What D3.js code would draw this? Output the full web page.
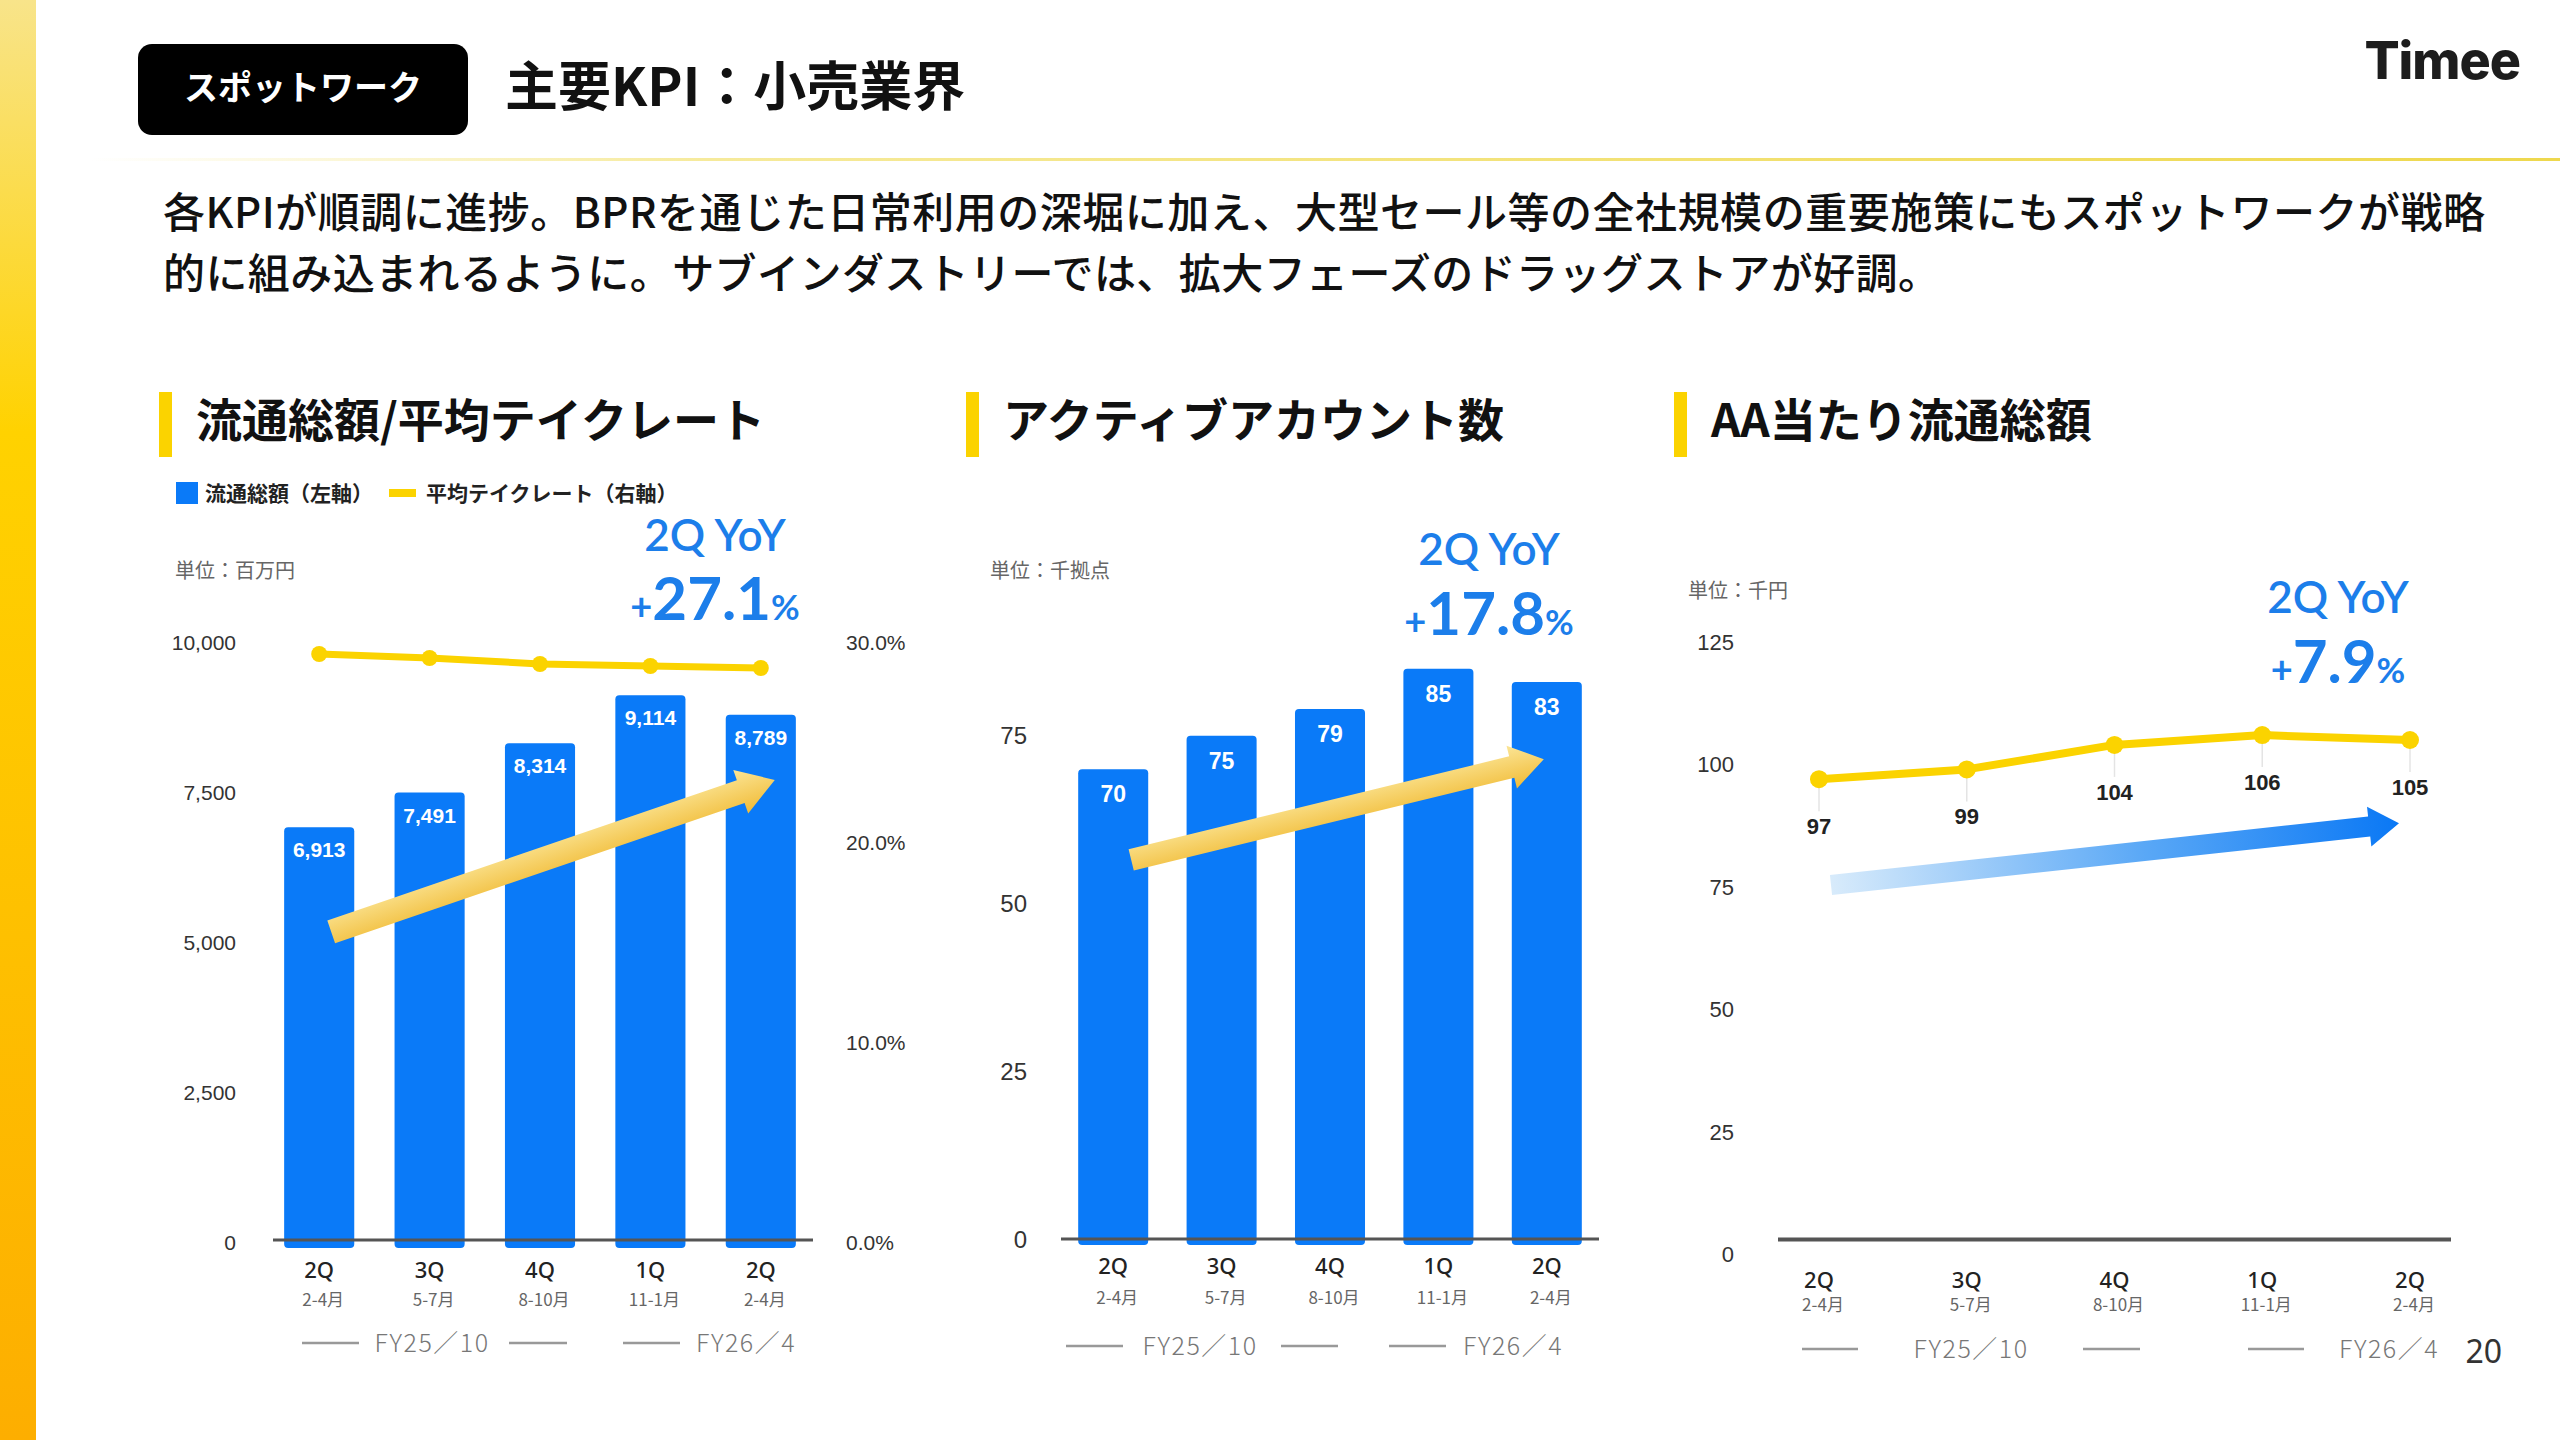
<!DOCTYPE html>
<html>
<head>
<meta charset="utf-8">
<script src="https://cdn.jsdelivr.net/npm/d3@7"></script>
<style>
  body { margin: 0; background: #fff; }
  svg { display: block; }
</style>
</head>
<body>
<div id="slide"></div>
<script>
// categories
const quarterKeys = ['FY25-2Q', 'FY25-3Q', 'FY25-4Q', 'FY26-1Q', 'FY26-2Q'];
const quarterLabels = ['2Q', '3Q', '4Q', '1Q', '2Q'];
const monthLabels = ['2-4月', '5-7月', '8-10月', '11-1月', '2-4月'];
const fiscalLabels = ['FY25／10', 'FY26／4'];

// series
const gmv = [6913, 7491, 8314, 9114, 8789];        // 百万円
const takeRate = [29.4, 29.2, 28.9, 28.8, 28.7];   // %
const activeAccounts = [70, 75, 79, 85, 83];       // 千拠点
const gmvPerAccount = [97, 99, 104, 106, 105];     // 千円

// ticks
const gmvTicks = [0, 2500, 5000, 7500, 10000];
const rateTicks = [0, 10, 20, 30];
const accountTicks = [0, 25, 50, 75];
const perAccountTicks = [0, 25, 50, 75, 100, 125];

// 2Q YoY
const yoyValues = ['27.1', '17.8', '7.9'];

// trend arrows, anchored in data space: [category index, value]
const gmvTrend = { from: [0, 5170], to: [4, 7700] };
const accountTrend = { from: [0, 56.5], to: [4, 71.5] };
const perAccountTrend = { from: [0, 75.4], to: [4, 88] };

const JP = '"Noto Sans CJK JP", "Noto Sans", sans-serif';
const NUM = '"Liberation Sans", Arial, sans-serif';
const BLUE = '#0A7AF8';
const YELLOW = '#FBD300';
const TEXT_BLUE = '#1C7EEA';

const svg = d3.select('#slide').append('svg')
  .attr('width', 2560)
  .attr('height', 1440);
const defs = svg.append('defs');

// gradients
function linearGradient(id, stops, coords, units) {
  const g = defs.append('linearGradient').attr('id', id);
  if (units) g.attr('gradientUnits', units);
  Object.entries(coords).forEach(([k, v]) => g.attr(k, v));
  stops.forEach(([o, c, op]) => {
    g.append('stop').attr('offset', o).attr('stop-color', c)
      .attr('stop-opacity', op === undefined ? 1 : op);
  });
}
linearGradient('stripe', [[0, '#F8E48A'], [0.3, '#FFD200'], [1, '#FDAE00']],
  { x1: 0, y1: 0, x2: 0, y2: 1 });
linearGradient('rule', [[0, '#F2DF60', 0], [0.25, '#F0DC58', 0.6], [1, '#EED84E']],
  { x1: 90, y1: 0, x2: 2560, y2: 0 }, 'userSpaceOnUse');
linearGradient('gold', [[0, '#FBE596'], [1, '#F1BC38']],
  { x1: 0, y1: 0, x2: 0, y2: 1 });
linearGradient('blueArrow', [[0, '#D8EBFB'], [0.55, '#5AA8F6'], [1, '#0A78F5']],
  { x1: 0, y1: 0, x2: 1, y2: 0 });

// ---- page frame ----
svg.append('rect').attr('x', 0).attr('y', 0).attr('width', 36).attr('height', 1440)
  .attr('fill', 'url(#stripe)');
svg.append('rect').attr('x', 90).attr('y', 158).attr('width', 2470).attr('height', 3)
  .attr('fill', 'url(#rule)');

svg.append('rect').attr('x', 138).attr('y', 44).attr('width', 330).attr('height', 91)
  .attr('rx', 14).attr('fill', '#000');
svg.append('text').attr('x', 303).attr('y', 100).attr('text-anchor', 'middle')
  .attr('font-family', JP).attr('font-weight', 700).attr('font-size', 34)
  .attr('fill', '#fff').text('スポットワーク');
svg.append('text').attr('x', 505).attr('y', 106)
  .attr('font-family', JP).attr('font-weight', 700).attr('font-size', 53)
  .attr('fill', '#111').text('主要KPI：小売業界');
svg.append('text').attr('x', 2520).attr('y', 79).attr('text-anchor', 'end')
  .attr('font-family', 'Inter, sans-serif').attr('font-weight', 800).attr('font-size', 52)
  .attr('letter-spacing', -1).attr('fill', '#1d1d1d').text('Timee');

const bodyLines = [
  { text: '各KPIが順調に進捗。BPRを通じた日常利用の深堀に加え、大型セール等の全社規模の重要施策にもスポットワークが戦略', width: 2322 },
  { text: '的に組み込まれるように。サブインダストリーでは、拡大フェーズのドラッグストアが好調。', width: 1777 }
];
bodyLines.forEach((line, i) => {
  svg.append('text').attr('x', 163).attr('y', 228 + i * 61)
    .attr('font-family', JP).attr('font-weight', 500).attr('font-size', 42)
    .attr('textLength', line.width).attr('lengthAdjust', 'spacing')
    .attr('fill', '#111').text(line.text);
});
svg.append('text').attr('x', 2502).attr('y', 1363).attr('text-anchor', 'end')
  .attr('font-family', '"Noto Sans", sans-serif').attr('font-size', 32)
  .attr('fill', '#333').text('20');

// ---- helpers ----
function sectionTitle(x, title) {
  svg.append('rect').attr('x', x).attr('y', 392).attr('width', 13).attr('height', 65)
    .attr('fill', YELLOW);
  svg.append('text').attr('x', x + 37).attr('y', 437)
    .attr('font-family', JP).attr('font-weight', 700).attr('font-size', 46)
    .attr('fill', '#111').text(title);
}

function unitLabel(x, y, str) {
  svg.append('text').attr('x', x).attr('y', y)
    .attr('font-family', JP).attr('font-size', 20).attr('fill', '#666').text(str);
}

function yoyBlock(cx, y1, y2, value) {
  svg.append('text').attr('x', cx).attr('y', y1).attr('text-anchor', 'middle')
    .attr('font-family', 'Lato, "Noto Sans", sans-serif').attr('font-weight', 600)
    .attr('font-size', 44).attr('fill', TEXT_BLUE).text('2Q YoY');
  const t = svg.append('text').attr('x', cx).attr('y', y2).attr('text-anchor', 'middle')
    .attr('font-family', 'Lato, "Noto Sans", sans-serif').attr('font-weight', 700)
    .attr('fill', TEXT_BLUE);
  t.append('tspan').attr('font-size', 38).text('+');
  t.append('tspan').attr('font-size', 60).text(value);
  t.append('tspan').attr('font-size', 35).text('%');
}

function tickLabels(scale, ticks, x, anchor, fmt, size) {
  svg.append('g').selectAll('text').data(ticks).join('text')
    .attr('x', x).attr('y', d => scale(d)).attr('dy', '0.36em')
    .attr('text-anchor', anchor)
    .attr('font-family', NUM).attr('font-size', size).attr('fill', '#333')
    .text(fmt);
}

function categoryLabels(xc, yQ, yM) {
  const g = svg.append('g');
  g.selectAll('.q').data(quarterKeys).join('text').attr('class', 'q')
    .attr('x', (d) => xc(d)).attr('y', yQ).attr('text-anchor', 'middle')
    .attr('font-family', '"Noto Sans", sans-serif').attr('font-weight', 500)
    .attr('font-size', 22).attr('fill', '#222')
    .text((d, i) => quarterLabels[i]);
  g.selectAll('.m').data(quarterKeys).join('text').attr('class', 'm')
    .attr('x', (d) => xc(d) + 4).attr('y', yM).attr('text-anchor', 'middle')
    .attr('font-family', JP).attr('font-size', 17).attr('fill', '#666')
    .text((d, i) => monthLabels[i]);
}

function fiscalRow(y, lines, textX) {
  const g = svg.append('g');
  g.selectAll('line').data(lines).join('line')
    .attr('x1', d => d[0]).attr('x2', d => d[1]).attr('y1', y).attr('y2', y)
    .attr('stroke', '#999').attr('stroke-width', 2.5);
  g.selectAll('text').data(fiscalLabels).join('text')
    .attr('x', (d, i) => textX[i]).attr('y', y).attr('dy', '0.36em')
    .attr('text-anchor', 'middle')
    .attr('font-family', JP).attr('font-weight', 300).attr('font-size', 25)
    .attr('letter-spacing', 1.5).attr('fill', '#777').text(d => d);
}

function baseline(x0, x1, y, w) {
  svg.append('line').attr('x1', x0).attr('x2', x1).attr('y1', y).attr('y2', y)
    .attr('stroke', '#555').attr('stroke-width', w);
}

// trend arrow pointing along +x in local space, then rotated into place
function trendArrow(p0, p1, shaft, headW, headL, fill) {
  const dx = p1[0] - p0[0], dy = p1[1] - p0[1];
  const len = Math.hypot(dx, dy);
  const ang = Math.atan2(dy, dx) * 180 / Math.PI;
  const s = shaft / 2, h = headW / 2, b = len - headL;
  const path = d3.path();
  path.moveTo(0, -s); path.lineTo(b, -s); path.lineTo(b, -h); path.lineTo(len, 0);
  path.lineTo(b, h); path.lineTo(b, s); path.lineTo(0, s); path.closePath();
  svg.append('path')
    .attr('transform', `translate(${p0[0]},${p0[1]}) rotate(${ang})`)
    .attr('d', path.toString()).attr('fill', fill);
}

function bars(x, y, values, labelSize, labelOffset) {
  const g = svg.append('g');
  g.selectAll('rect').data(quarterKeys).join('rect')
    .attr('x', d => x(d)).attr('width', x.bandwidth())
    .attr('y', (d, i) => y(values[i]))
    .attr('height', (d, i) => y(0) - y(values[i]) + 6)
    .attr('rx', 4).attr('fill', BLUE);
  g.selectAll('text').data(quarterKeys).join('text')
    .attr('x', d => x(d) + x.bandwidth() / 2)
    .attr('y', (d, i) => y(values[i]) + labelOffset)
    .attr('text-anchor', 'middle')
    .attr('font-family', NUM).attr('font-weight', 700).attr('font-size', labelSize)
    .attr('fill', '#fff').text((d, i) => d3.format(',')(values[i]));
}

// ---- panel 1: 流通総額 / 平均テイクレート ----
sectionTitle(159, '流通総額/平均テイクレート');
svg.append('rect').attr('x', 176).attr('y', 482).attr('width', 22).attr('height', 22)
  .attr('fill', BLUE);
svg.append('text').attr('x', 205).attr('y', 501).attr('font-family', JP)
  .attr('font-size', 21).attr('font-weight', 700).attr('fill', '#222').text('流通総額（左軸）');
svg.append('rect').attr('x', 389).attr('y', 489).attr('width', 27).attr('height', 8)
  .attr('fill', YELLOW);
svg.append('text').attr('x', 426).attr('y', 501).attr('font-family', JP)
  .attr('font-size', 21).attr('font-weight', 700).attr('fill', '#222')
  .text('平均テイクレート（右軸）');
unitLabel(175, 578, '単位：百万円');
yoyBlock(715, 551, 620, yoyValues[0]);

const x1 = d3.scaleBand().domain(quarterKeys).range([264, 816])
  .paddingInner(0.365).paddingOuter(0.1825);
const y1 = d3.scaleLinear().domain([0, 10000]).range([1242, 642]);
const yRate = d3.scaleLinear().domain([0, 30]).range([1242, 642]);
const xc1 = d => x1(d) + x1.bandwidth() / 2;

tickLabels(y1, gmvTicks, 236, 'end', d3.format(','), 21);
tickLabels(yRate, rateTicks, 846, 'start', d => d3.format('.1f')(d) + '%', 21);
bars(x1, y1, gmv, 21, 30);
baseline(273, 813, 1240, 3);

const rateLine = d3.line().x(d => xc1(d)).y((d, i) => yRate(takeRate[i]));
svg.append('path').attr('d', rateLine(quarterKeys)).attr('fill', 'none')
  .attr('stroke', YELLOW).attr('stroke-width', 7).attr('stroke-linejoin', 'round');
svg.append('g').selectAll('circle').data(quarterKeys).join('circle')
  .attr('cx', d => xc1(d)).attr('cy', (d, i) => yRate(takeRate[i]))
  .attr('r', 8).attr('fill', YELLOW);

trendArrow(
  [xc1(quarterKeys[gmvTrend.from[0]]) + 12, y1(gmvTrend.from[1])],
  [xc1(quarterKeys[gmvTrend.to[0]]) + 14, y1(gmvTrend.to[1])],
  24, 46, 36, 'url(#gold)');

categoryLabels(xc1, 1278, 1306);
fiscalRow(1343, [[302, 359], [509, 567], [623, 680]], [432, 746]);

// ---- panel 2: アクティブアカウント数 ----
sectionTitle(966, 'アクティブアカウント数');
unitLabel(990, 578, '単位：千拠点');
yoyBlock(1489, 565, 635, yoyValues[1]);

const x2 = d3.scaleBand().domain(quarterKeys).range([1059, 1601])
  .paddingInner(0.354).paddingOuter(0.177);
const y2 = d3.scaleLinear().domain([0, 100]).range([1239, 568]);
const xc2 = d => x2(d) + x2.bandwidth() / 2;

tickLabels(y2, accountTicks, 1027, 'end', d => d, 24);
bars(x2, y2, activeAccounts, 23, 33);
baseline(1061, 1599, 1239, 3);

trendArrow(
  [xc2(quarterKeys[accountTrend.from[0]]) + 18, y2(accountTrend.from[1])],
  [xc2(quarterKeys[accountTrend.to[0]]) - 3, y2(accountTrend.to[1])],
  22, 44, 33, 'url(#gold)');

categoryLabels(xc2, 1274, 1304);
fiscalRow(1346, [[1066, 1123], [1281, 1338], [1389, 1446]], [1200, 1513]);

// ---- panel 3: AA当たり流通総額 ----
sectionTitle(1674, 'AA当たり流通総額');
unitLabel(1688, 598, '単位：千円');
yoyBlock(2338, 613, 683, yoyValues[2]);

const x3 = d3.scalePoint().domain(quarterKeys).range([1819, 2410]);
const y3 = d3.scaleLinear().domain([0, 125]).range([1254.5, 642]);

tickLabels(y3, perAccountTicks, 1734, 'end', d => d, 22);
baseline(1778, 2451, y3(0) - 15, 4);

trendArrow(
  [x3(quarterKeys[perAccountTrend.from[0]]) + 12, y3(perAccountTrend.from[1])],
  [x3(quarterKeys[perAccountTrend.to[0]]) - 11, y3(perAccountTrend.to[1])],
  20, 40, 30, 'url(#blueArrow)');

// faint drop lines under each point
svg.append('g').selectAll('line').data(quarterKeys).join('line')
  .attr('x1', d => x3(d)).attr('x2', d => x3(d))
  .attr('y1', (d, i) => y3(gmvPerAccount[i]))
  .attr('y2', (d, i) => y3(gmvPerAccount[i]) + 32)
  .attr('stroke', '#e4e4e4').attr('stroke-width', 1.5);

const perLine = d3.line().x(d => x3(d)).y((d, i) => y3(gmvPerAccount[i]));
svg.append('path').attr('d', perLine(quarterKeys)).attr('fill', 'none')
  .attr('stroke', YELLOW).attr('stroke-width', 8).attr('stroke-linejoin', 'round');
svg.append('g').selectAll('circle').data(quarterKeys).join('circle')
  .attr('cx', d => x3(d)).attr('cy', (d, i) => y3(gmvPerAccount[i]))
  .attr('r', 9).attr('fill', YELLOW);
svg.append('g').selectAll('text').data(quarterKeys).join('text')
  .attr('x', d => x3(d)).attr('y', (d, i) => y3(gmvPerAccount[i]) + 47).attr('dy', '0.36em')
  .attr('text-anchor', 'middle')
  .attr('font-family', NUM).attr('font-weight', 700).attr('font-size', 22)
  .attr('fill', '#222').text((d, i) => gmvPerAccount[i]);

categoryLabels(x3, 1288, 1311);
fiscalRow(1349, [[1802, 1858], [2083, 2140], [2248, 2304]], [1971, 2389]);
</script>
</body>
</html>
